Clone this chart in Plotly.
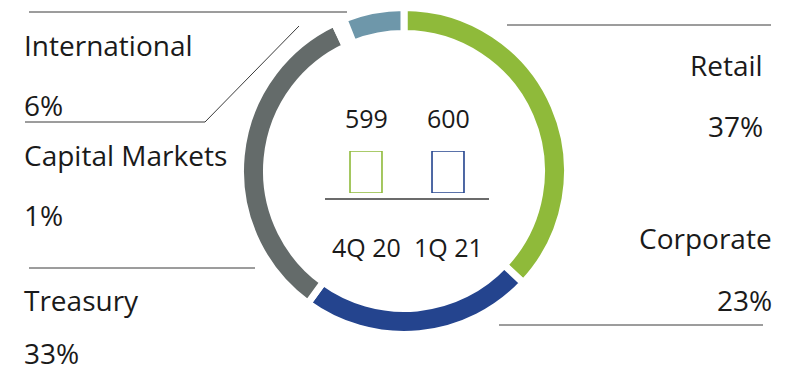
import plotly.graph_objects as go

# Segment shares (%)
segments = ["Retail", "Corporate", "Treasury", "Capital Markets", "International"]
shares = [37, 23, 33, 1, 6]
seg_colors = ["#8fba3a", "#24448e", "#646b6a", "#ffffff", "#6e97aa"]

# Quarterly totals shown in the centre
quarters = ["4Q 20", "1Q 21"]
totals = [599, 600]
bar_colors = ["#8fba3a", "#24448e"]

W, H = 800, 374
FONT = "Open Sans"
TXT = "#1a1a1a"


def px(x):
    return x / W


def py(y):
    return 1 - y / H


fig = go.Figure()

# Donut ring (white slice borders leave the gaps between segments)
cx, cy, r = 404, 171, 163.5
fig.add_trace(go.Pie(
    labels=segments, values=shares, sort=False, direction="clockwise",
    rotation=0, hole=0.841, textinfo="none", hoverinfo="label+percent",
    marker=dict(colors=seg_colors, line=dict(color="white", width=7)),
    domain=dict(x=[px(cx - r), px(cx + r)], y=[py(cy + r), py(cy - r)]),
    showlegend=False,
))

# Outlined bars in the centre
fig.add_trace(go.Bar(
    x=[0, 1], y=totals, width=0.39,
    marker=dict(color="white", line=dict(color=bar_colors, width=1.6)),
    showlegend=False, hoverinfo="y",
))

fig.update_layout(
    width=W, height=H, margin=dict(l=0, r=0, t=0, b=0),
    paper_bgcolor="white", plot_bgcolor="rgba(0,0,0,0)",
    xaxis=dict(domain=[px(325), px(489)], range=[-0.5, 1.5], visible=False,
               fixedrange=True),
    yaxis=dict(domain=[py(193), py(151)], range=[0, 600], visible=False,
               fixedrange=True),
    font=dict(family=FONT, color=TXT),
)

annotations = []
# Values above bars, quarter names below
for i, (q, v) in enumerate(zip(quarters, totals)):
    annotations.append(dict(x=i, y=py(118), xref="x", yref="paper", text=str(v),
                            showarrow=False, xanchor="center", yanchor="middle",
                            font=dict(size=25, color=TXT)))
    annotations.append(dict(x=i, y=py(247), xref="x", yref="paper", text=q,
                            showarrow=False, xanchor="center", yanchor="middle",
                            font=dict(size=25, color=TXT)))

# Segment labels
LBL = 28
left_labels = [
    ("International", 45), ("6%", 105),
    ("Capital Markets", 155), ("1%", 215),
    ("Treasury", 300),
]
for text, y in left_labels:
    annotations.append(dict(x=px(22), y=py(y), xref="paper", yref="paper",
                            text=text, showarrow=False, xanchor="left",
                            yanchor="middle", font=dict(size=LBL, color=TXT)))
# Last label sits on the bottom edge of the canvas
annotations.append(dict(x=px(22), y=0, xref="paper", yref="paper", text="33%",
                        showarrow=False, xanchor="left", yanchor="bottom",
                        font=dict(size=LBL, color=TXT)))
right_labels = [
    ("Retail", 65, 765), ("37%", 126, 765),
    ("Corporate", 238, 774), ("23%", 300, 774),
]
for text, y, xr in right_labels:
    annotations.append(dict(x=px(xr), y=py(y), xref="paper", yref="paper",
                            text=text, showarrow=False, xanchor="right",
                            yanchor="middle", font=dict(size=LBL, color=TXT)))
fig.update_layout(annotations=annotations)

# Leader / separator lines
line_style = dict(color="#3a3a3a", width=1)
segs = [
    (29, 12, 347, 12),
    (25, 122, 205, 122),
    (205, 122, 299, 26),
    (29, 268, 255, 268),
    (507, 25, 771, 25),
    (499, 325, 763, 325),
]
shapes = [dict(type="line", xref="paper", yref="paper", x0=px(a), y0=py(b),
               x1=px(c), y1=py(d), line=line_style) for a, b, c, d in segs]
# Baseline under the centre bars
shapes.append(dict(type="line", xref="paper", yref="paper", x0=px(325),
                   y0=py(199), x1=px(489), y1=py(199),
                   line=dict(color="#6b6b6b", width=2)))
fig.update_layout(shapes=shapes)

fig.write_html("out.html")
